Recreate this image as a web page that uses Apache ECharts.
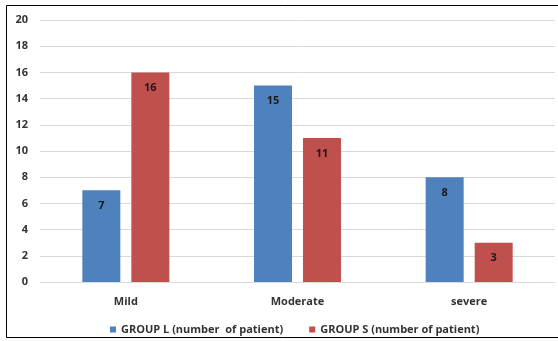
<!DOCTYPE html>
<html>
<head>
<meta charset="utf-8">
<script src="https://cdn.jsdelivr.net/npm/echarts@6/dist/echarts.min.js"></script>
<style>
  html, body { margin: 0; padding: 0; background: #fff; }
  #chart { width: 558px; height: 341px; }
</style>
</head>
<body>
<div id="chart"></div>
<script>
// Severity categories and patient counts per group
const categories = ['Mild', 'Moderate', 'severe'];
const groupL = [7, 15, 8];
const groupS = [16, 11, 3];
const seriesNames = ['GROUP L (number  of patient)', 'GROUP S (number of patient)'];

const font = '"Open Sans", "Liberation Sans", sans-serif';
const chart = echarts.init(document.getElementById('chart'), null, { renderer: 'canvas' });

const labelStyle = {
  show: true,
  position: 'insideTop',
  distance: 10,
  color: '#1a1a1a',
  fontWeight: 'bold',
  fontSize: 11,
  fontFamily: font
};

chart.setOption({
  animation: false,
  backgroundColor: '#fff',
  graphic: [{
    type: 'rect',
    shape: { x: 6.5, y: 5.5, width: 560, height: 332 },
    style: { fill: 'none', stroke: '#000', lineWidth: 1 },
    silent: true
  }],
  grid: { left: 40, right: 3, top: 20, bottom: 59 },
  legend: {
    top: 319,
    left: 105,
    itemWidth: 6,
    itemHeight: 6,
    itemGap: 26,
    icon: 'rect',
    textStyle: { color: '#333', fontWeight: 'bold', fontSize: 11, fontFamily: font },
    data: seriesNames
  },
  xAxis: {
    type: 'category',
    data: categories,
    axisLine: { lineStyle: { color: '#d9d9d9' } },
    axisTick: { show: false },
    axisLabel: { color: '#333', fontWeight: 'bold', fontSize: 11, fontFamily: font, margin: 14 }
  },
  yAxis: {
    type: 'value',
    min: 0,
    max: 20,
    interval: 2,
    axisLine: { show: false },
    axisTick: { show: false },
    splitLine: { lineStyle: { color: '#d9d9d9' } },
    axisLabel: { color: '#333', fontWeight: 'bold', fontSize: 11, fontFamily: font, margin: 12 }
  },
  series: [
    {
      name: seriesNames[0],
      type: 'bar',
      data: groupL,
      barWidth: 38,
      barGap: '29%',
      itemStyle: { color: '#4F81BD' },
      label: labelStyle
    },
    {
      name: seriesNames[1],
      type: 'bar',
      data: groupS,
      barWidth: 38,
      itemStyle: { color: '#C0504D' },
      label: labelStyle
    }
  ]
});
</script>
</body>
</html>
